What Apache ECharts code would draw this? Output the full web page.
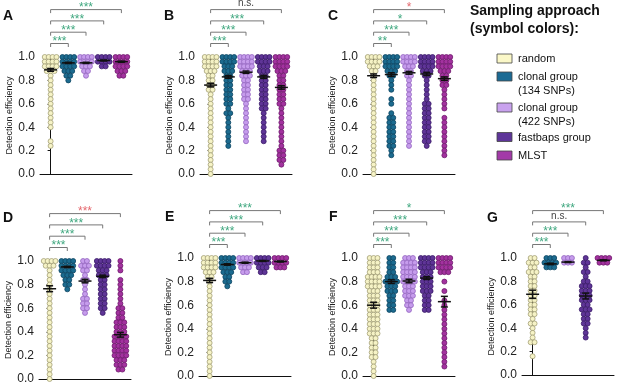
<!DOCTYPE html>
<html>
<head>
<meta charset="utf-8">
<script src="https://cdn.jsdelivr.net/npm/echarts@6/dist/echarts.min.js"></script>
<style>
  html, body { margin: 0; padding: 0; background: #fff; }
  #chart { width: 617px; height: 385px; }
</style>
</head>
<body>
<div id="chart"></div>
<script>
// sampling approaches, one colour each
const groupNames = ['random', 'clonal group\n(134 SNPs)', 'clonal group\n(422 SNPs)', 'fastbaps group', 'MLST']
const groupFill = ['#f6f3c6', '#1c6b8f', '#c69cec', '#5f3597', '#a3329f']
const groupEdge = ['#a3a077', '#0b4461', '#9466c0', '#3a1a68', '#6e1a6c']
const legendFill = ['#fbf8c8', '#1b6a94', '#c9a2ee', '#5e3599', '#a33aa8']

// detection efficiency rows (dots are stacked on these levels)
const levels = [1.00, 0.96, 0.92, 0.88, 0.84, 0.80, 0.76, 0.72, 0.68, 0.64, 0.60, 0.56, 0.52,
  0.48, 0.44, 0.40, 0.36, 0.32, 0.28, 0.24, 0.20, 0.16, 0.12, 0.08, 0.04, 0.00]

// number of dots on each level, per group (random, clonal134, clonal422, fastbaps, MLST)
const countsA = [
  [4, 4, 4, 3, 1, 1, 1, 1, 1, 1, 1, 1, 1, 1, 1, 1, 0, 0, 1, 1, 0, 0, 0, 0, 0, 0],
  [4, 4, 4, 3, 2, 1, 0, 0, 0, 0, 0, 0, 0, 0, 0, 0, 0, 0, 0, 0, 0, 0, 0, 0, 0, 0],
  [4, 4, 3, 2, 1, 0, 0, 0, 0, 0, 0, 0, 0, 0, 0, 0, 0, 0, 0, 0, 0, 0, 0, 0, 0, 0],
  [4, 4, 2, 0, 0, 0, 0, 0, 0, 0, 0, 0, 0, 0, 0, 0, 0, 0, 0, 0, 0, 0, 0, 0, 0, 0],
  [4, 4, 4, 3, 2, 0, 0, 0, 0, 0, 0, 0, 0, 0, 0, 0, 0, 0, 0, 0, 0, 0, 0, 0, 0, 0]
]
const countsB = [
  [4, 4, 4, 3, 2, 2, 2, 2, 1, 1, 1, 1, 1, 1, 1, 1, 1, 1, 1, 1, 1, 1, 1, 1, 1, 1],
  [4, 4, 3, 3, 2, 2, 2, 2, 2, 2, 2, 1, 2, 1, 1, 1, 1, 1, 1, 1, 0, 0, 0, 0, 0, 0],
  [4, 4, 4, 3, 3, 2, 2, 2, 2, 2, 1, 1, 1, 1, 1, 1, 1, 1, 1, 0, 0, 0, 0, 0, 0, 0],
  [4, 4, 3, 3, 2, 2, 2, 2, 2, 2, 2, 2, 1, 1, 1, 1, 1, 1, 1, 0, 0, 0, 0, 0, 0, 0],
  [4, 4, 4, 3, 2, 2, 2, 2, 2, 2, 2, 1, 1, 1, 1, 1, 1, 1, 1, 1, 2, 2, 2, 1, 0, 0]
]
const countsC = [
  [4, 4, 3, 2, 1, 1, 1, 1, 1, 1, 1, 1, 1, 1, 1, 1, 1, 1, 1, 1, 1, 1, 1, 1, 1, 1],
  [4, 4, 4, 3, 2, 1, 1, 1, 0, 1, 1, 0, 1, 2, 2, 2, 2, 2, 2, 2, 1, 1, 0, 0, 0, 0],
  [4, 4, 3, 2, 2, 1, 1, 1, 1, 1, 1, 1, 1, 1, 1, 1, 1, 1, 1, 1, 0, 0, 0, 0, 0, 0],
  [4, 4, 4, 3, 2, 1, 1, 1, 1, 1, 2, 2, 2, 2, 2, 2, 2, 2, 2, 1, 0, 0, 0, 0, 0, 0],
  [4, 4, 4, 3, 2, 2, 2, 1, 1, 1, 1, 1, 0, 1, 1, 1, 1, 1, 1, 1, 1, 1, 0, 0, 0, 0]
]
const countsD = [
  [4, 3, 1, 1, 1, 1, 1, 1, 1, 1, 1, 1, 1, 1, 1, 1, 1, 1, 1, 1, 1, 1, 1, 1, 1, 1],
  [4, 4, 4, 3, 2, 2, 1, 0, 0, 0, 0, 0, 0, 0, 0, 0, 0, 0, 0, 0, 0, 0, 0, 0, 0, 0],
  [2, 3, 2, 1, 2, 1, 1, 1, 2, 2, 2, 1, 0, 0, 0, 0, 0, 0, 0, 0, 0, 0, 0, 0, 0, 0],
  [4, 4, 3, 3, 2, 2, 2, 2, 2, 2, 2, 1, 0, 0, 0, 0, 0, 0, 0, 0, 0, 0, 0, 0, 0, 0],
  [1, 1, 1, 0, 1, 1, 1, 1, 1, 1, 2, 2, 2, 3, 3, 3, 4, 4, 4, 4, 4, 3, 3, 2, 0, 0]
]
const countsE = [
  [4, 4, 4, 3, 2, 1, 1, 1, 1, 1, 1, 1, 1, 1, 1, 1, 1, 1, 1, 1, 1, 1, 1, 1, 1, 1],
  [4, 4, 4, 3, 2, 2, 1, 0, 0, 0, 0, 0, 0, 0, 0, 0, 0, 0, 0, 0, 0, 0, 0, 0, 0, 0],
  [4, 4, 3, 2, 0, 0, 0, 0, 0, 0, 0, 0, 0, 0, 0, 0, 0, 0, 0, 0, 0, 0, 0, 0, 0, 0],
  [4, 4, 3, 2, 0, 0, 0, 0, 0, 0, 0, 0, 0, 0, 0, 0, 0, 0, 0, 0, 0, 0, 0, 0, 0, 0],
  [4, 4, 3, 0, 0, 0, 0, 0, 0, 0, 0, 0, 0, 0, 0, 0, 0, 0, 0, 0, 0, 0, 0, 0, 0, 0]
]
const countsF = [
  [3, 3, 3, 3, 4, 4, 4, 3, 3, 3, 3, 3, 3, 3, 3, 3, 3, 2, 2, 2, 2, 2, 1, 1, 1, 1],
  [2, 2, 2, 2, 3, 4, 3, 3, 2, 2, 2, 2, 0, 0, 0, 0, 0, 0, 0, 0, 0, 0, 0, 0, 0, 0],
  [3, 4, 4, 4, 4, 4, 3, 3, 3, 2, 2, 1, 0, 0, 0, 0, 0, 0, 0, 0, 0, 0, 0, 0, 0, 0],
  [4, 4, 4, 3, 3, 3, 3, 3, 2, 2, 2, 2, 0, 0, 0, 0, 0, 0, 0, 0, 0, 0, 0, 0, 0, 0],
  [4, 4, 4, 3, 0, 1, 0, 1, 0, 1, 1, 1, 1, 1, 1, 1, 1, 1, 1, 1, 1, 1, 1, 1, 0, 0]
]
const countsG = [
  [2, 3, 2, 3, 2, 2, 2, 2, 2, 2, 2, 2, 2, 1, 2, 1, 1, 1, 2, 0, 0, 1, 0, 0, 0, 0],
  [3, 4, 3, 0, 0, 0, 0, 0, 0, 0, 0, 0, 0, 0, 0, 0, 0, 0, 0, 0, 0, 0, 0, 0, 0, 0],
  [3, 3, 0, 0, 0, 0, 0, 0, 0, 0, 0, 0, 0, 0, 0, 0, 0, 0, 0, 0, 0, 0, 0, 0, 0, 0],
  [1, 2, 1, 2, 1, 2, 3, 3, 3, 3, 2, 3, 2, 2, 2, 1, 1, 1, 0, 0, 0, 0, 0, 0, 0, 0],
  [4, 3, 0, 0, 0, 0, 0, 0, 0, 0, 0, 0, 0, 0, 0, 0, 0, 0, 0, 0, 0, 0, 0, 0, 0, 0]
]

// mean and SEM per group
const meansA = [0.89, 0.95, 0.95, 0.97, 0.96]
const semsA = [0.012, 0.005, 0.005, 0.004, 0.005]
const meansB = [0.76, 0.83, 0.87, 0.83, 0.74]
const semsB = [0.015, 0.012, 0.01, 0.013, 0.015]
const meansC = [0.84, 0.85, 0.865, 0.855, 0.815]
const semsC = [0.015, 0.015, 0.012, 0.014, 0.015]
const meansD = [0.765, 0.95, 0.83, 0.87, 0.375]
const semsD = [0.025, 0.005, 0.015, 0.01, 0.02]
const meansE = [0.81, 0.945, 0.96, 0.975, 0.97]
const semsE = [0.018, 0.006, 0.005, 0.004, 0.004]
const meansF = [0.60, 0.80, 0.805, 0.83, 0.63]
const semsF = [0.025, 0.015, 0.015, 0.012, 0.045]
const meansG = [0.69, 0.95, 0.965, 0.675, 0.98]
const semsG = [0.035, 0.006, 0.004, 0.025, 0.004]

// random vs. each other group; g = better, r = worse, n = not significant
const sigA = ['***', '***', '***', '***'], sigColA = ['g', 'g', 'g', 'g']
const sigB = ['***', '***', '***', 'n.s.'], sigColB = ['g', 'g', 'g', 'n']
const sigC = ['**', '***', '*', '*'], sigColC = ['g', 'g', 'g', 'r']
const sigD = ['***', '***', '***', '***'], sigColD = ['g', 'g', 'g', 'r']
const sigE = ['***', '***', '***', '***'], sigColE = ['g', 'g', 'g', 'g']
const sigF = ['***', '***', '***', '*'], sigColF = ['g', 'g', 'g', 'g']
const sigG = ['***', '***', 'n.s.', '***'], sigColG = ['g', 'g', 'n', 'g']

const sigColors = { g: '#3fa77f', r: '#e5686e', n: '#444' }
const FONT = 'Liberation Sans, Arial, sans-serif'

const panels = [
  { label: 'A', counts: countsA, means: meansA, sems: semsA, sig: sigA, sigCol: sigColA, left: 40, top: 57, height: 117, lx: 3, ly: 17 },
  { label: 'B', counts: countsB, means: meansB, sems: semsB, sig: sigB, sigCol: sigColB, left: 200, top: 57, height: 117, lx: 164, ly: 17 },
  { label: 'C', counts: countsC, means: meansC, sems: semsC, sig: sigC, sigCol: sigColC, left: 363, top: 57, height: 117, lx: 328, ly: 17 },
  { label: 'D', counts: countsD, means: meansD, sems: semsD, sig: sigD, sigCol: sigColD, left: 39, top: 261, height: 119, lx: 3, ly: 219 },
  { label: 'E', counts: countsE, means: meansE, sems: semsE, sig: sigE, sigCol: sigColE, left: 199, top: 258, height: 118, lx: 165, ly: 218 },
  { label: 'F', counts: countsF, means: meansF, sems: semsF, sig: sigF, sigCol: sigColF, left: 363, top: 258, height: 118, lx: 329, ly: 218 },
  { label: 'G', counts: countsG, means: meansG, sems: semsG, sig: sigG, sigCol: sigColG, left: 522, top: 258, height: 117, lx: 487, ly: 219 }
]

const GRID_W = 92
const X_MIN = -0.6, X_MAX = 4.6
const PX_PER_UNIT = GRID_W / (X_MAX - X_MIN)

// lay dots of one row side by side around the group centre
function swarm(counts, gi) {
  const pts = []
  counts.forEach((n, k) => {
    if (!n) return
    let step = 3.9
    if (n > 1 && (n - 1) * step > 12) step = 12 / (n - 1)
    for (let i = 0; i < n; i++) {
      pts.push([gi + (i - (n - 1) / 2) * step / PX_PER_UNIT, levels[k]])
    }
  })
  return pts
}

function renderMean(params, api) {
  const x = api.value(0), m = api.value(1), s = api.value(2)
  const c = api.coord([x, m])
  const hi = api.coord([x, m + s])[1]
  const lo = api.coord([x, m - s])[1]
  const st = { stroke: '#111', lineWidth: 1.5 }
  return {
    type: 'group',
    children: [
      { type: 'line', shape: { x1: c[0] - 6.5, y1: c[1], x2: c[0] + 6.5, y2: c[1] }, style: st },
      { type: 'line', shape: { x1: c[0], y1: hi, x2: c[0], y2: lo }, style: st },
      { type: 'line', shape: { x1: c[0] - 3.5, y1: hi, x2: c[0] + 3.5, y2: hi }, style: st },
      { type: 'line', shape: { x1: c[0] - 3.5, y1: lo, x2: c[0] + 3.5, y2: lo }, style: st }
    ]
  }
}

function bracketRenderer(p) {
  return function (params, api) {
    const j = api.value(0)
    const a = api.coord([0, 1]), b = api.coord([j, 1])
    const y = a[1] - 13.5 - (j - 1) * 11.3
    const txt = p.sig[j - 1]
    const ns = txt === 'n.s.'
    return {
      type: 'group',
      children: [
        { type: 'polyline', shape: { points: [[a[0], y + 3.5], [a[0], y], [b[0], y], [b[0], y + 3.5]] },
          style: { stroke: '#777', lineWidth: 1, fill: null } },
        { type: 'text', x: (a[0] + b[0]) / 2, y: ns ? y - 1 : y - 1.5,
          style: { text: txt, fill: sigColors[p.sigCol[j - 1]], font: (ns ? '10px ' : '12px ') + FONT,
            textAlign: 'center', textVerticalAlign: ns ? 'bottom' : 'middle' } }
      ]
    }
  }
}

const grids = [], xAxes = [], yAxes = [], series = []
const graphics = []

panels.forEach((p, pi) => {
  grids.push({ left: p.left, top: p.top, width: GRID_W, height: p.height })
  xAxes.push({
    gridIndex: pi, type: 'value', min: X_MIN, max: X_MAX,
    axisLine: { lineStyle: { color: '#111', width: 1 } },
    axisTick: { show: false }, axisLabel: { show: false }, splitLine: { show: false }
  })
  yAxes.push({
    gridIndex: pi, type: 'value', min: 0, max: 1, interval: 0.2,
    name: 'Detection efficiency', nameLocation: 'middle', nameGap: 25,
    nameTextStyle: { fontSize: 9, fontFamily: FONT, color: '#222' },
    axisLine: { show: true, lineStyle: { color: '#111', width: 1 } },
    axisTick: { show: true, length: 3, lineStyle: { color: '#111' } },
    axisLabel: { fontSize: 12, fontFamily: FONT, color: '#222', margin: 5, formatter: v => v.toFixed(1) },
    splitLine: { show: false }
  })
  p.counts.forEach((c, gi) => {
    series.push({
      type: 'scatter', xAxisIndex: pi, yAxisIndex: pi, silent: true,
      symbolSize: 5, data: swarm(c, gi),
      itemStyle: { color: groupFill[gi], borderColor: groupEdge[gi], borderWidth: 0.8, opacity: 1 }
    })
  })
  series.push({
    type: 'custom', xAxisIndex: pi, yAxisIndex: pi, silent: true, z: 5,
    data: p.means.map((m, i) => [i, m, p.sems[i]]), renderItem: renderMean
  })
  series.push({
    type: 'custom', xAxisIndex: pi, yAxisIndex: pi, silent: true, clip: false,
    data: p.sig.map((s, j) => [j + 1]), renderItem: bracketRenderer(p)
  })
  graphics.push({
    type: 'text', left: p.lx, top: p.ly - 8,
    style: { text: p.label, font: 'bold 14px ' + FONT, fill: '#111' }
  })
})

// legend block on the right
graphics.push({ type: 'text', left: 470, top: 4, style: { text: 'Sampling approach', font: 'bold 14px ' + FONT, fill: '#111' } })
graphics.push({ type: 'text', left: 470, top: 22, style: { text: '(symbol colors):', font: 'bold 14px ' + FONT, fill: '#111' } })
const legendY = [58.5, 76.5, 107.5, 137, 155.5]
groupNames.forEach((n, i) => {
  graphics.push({ type: 'rect', shape: { x: 497, y: legendY[i] - 4.5, width: 15, height: 9 },
    style: { fill: legendFill[i], stroke: '#444', lineWidth: 0.8 } })
  graphics.push({ type: 'text', left: 518, top: legendY[i] - 6.5,
    style: { text: n, font: '11px ' + FONT, fill: '#111', lineHeight: 14 } })
})

const chart = echarts.init(document.getElementById('chart'))
chart.setOption({
  animation: false,
  grid: grids, xAxis: xAxes, yAxis: yAxes, series: series, graphic: graphics
})
</script>
</body>
</html>
